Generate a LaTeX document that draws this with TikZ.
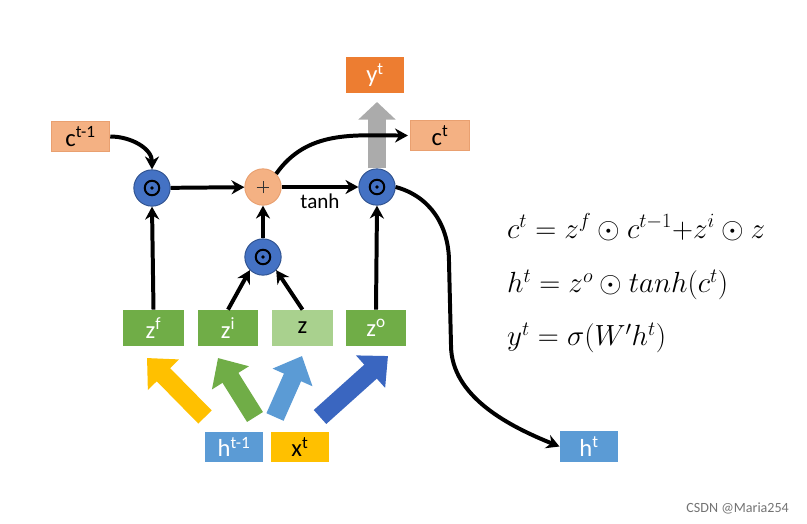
\documentclass[tikz,border=0pt]{standalone}
\usepackage{fontspec}
\usepackage{amsmath}
\setsansfont{Carlito}
\usetikzlibrary{arrows.meta}
\definecolor{salmon}{HTML}{F4B183}
\definecolor{salmonB}{HTML}{E9A070}
\definecolor{orangeY}{HTML}{ED7D31}
\definecolor{blueC}{HTML}{4472C4}
\definecolor{blueCB}{HTML}{2F528F}
\definecolor{greenZ}{HTML}{70AD47}
\definecolor{greenL}{HTML}{A9D18E}
\definecolor{blueH}{HTML}{5B9BD5}
\definecolor{yellowX}{HTML}{FFC000}
\definecolor{darkblueA}{HTML}{3A66C0}
\begin{document}
\begin{tikzpicture}[x=0.03cm,y=-0.03cm,
  lbl/.style={font=\sffamily\fontsize{21}{23}\selectfont},
  cbox/.style={lbl,draw=salmonB,fill=salmon,line width=0.8pt,minimum width=50pt,minimum height=26pt,inner sep=0pt,text=black},
  gbox/.style={lbl,fill=greenZ,minimum width=52pt,minimum height=31pt,inner sep=0pt,text=white},
  mulc/.style={circle,draw=blueCB,fill=blueC,line width=0.8pt,minimum size=31pt,inner sep=0pt,
    path picture={\draw[draw=black,line width=1.7pt] (path picture bounding box.center) circle (6.2pt);
                  \fill[black] (path picture bounding box.center) circle (1.6pt);}},
  addc/.style={circle,draw=salmonB,fill=salmon,line width=0.8pt,minimum size=31pt,inner sep=0pt,
    path picture={\draw[draw=black!80,line width=0.6pt] ([xshift=-5.5pt]path picture bounding box.center) -- ([xshift=5.5pt]path picture bounding box.center)
                  ([yshift=-5.5pt]path picture bounding box.center) -- ([yshift=5.5pt]path picture bounding box.center);}},
  conn/.style={line width=3.4pt,-{Stealth[length=11pt,width=12pt]}},
  bigarrow/.style={line width=16pt,-{Triangle[length=20pt,width=36pt]}}
]
\useasboundingbox (0,0) rectangle (807,523);

% boxes
\node[cbox] (cprev) at (80.5,136.5) {c\textsuperscript{t-1}};
\node[cbox] (cnext) at (440,135.5) {c\textsuperscript{t}};
\node[lbl,fill=orangeY,minimum width=50pt,minimum height=31pt,inner sep=0pt,text=white] (y) at (375,75) {y\textsuperscript{t}};

\node[mulc] (o1) at (152,188) {};
\node[addc] (add) at (263,187) {};
\node[mulc] (o3) at (377,187) {};
\node[mulc] (o2) at (263,257) {};

\node[gbox] (zf) at (153.5,328) {z\textsuperscript{f}};
\node[gbox] (zi) at (228,328) {z\textsuperscript{i}};
\node[gbox,fill=greenL,text=black] (z) at (302.5,328) {z};
\node[gbox] (zo) at (376,328) {z\textsuperscript{o}};

\node[lbl,fill=blueH,text=white,minimum width=50pt,minimum height=26pt,inner sep=0pt] (hprev) at (234,447) {h\textsuperscript{t-1}};
\node[lbl,fill=yellowX,text=black,minimum width=50pt,minimum height=26pt,inner sep=0pt] (x) at (300,447) {x\textsuperscript{t}};
\node[lbl,fill=blueH,text=white,minimum width=50pt,minimum height=26pt,inner sep=0pt] (ht) at (589,446.5) {h\textsuperscript{t}};

% big input arrows
\coordinate (ya) at (205,417); \coordinate (yb) at (147,358);
\coordinate (ga) at (255,417); \coordinate (gb) at (218,358);
\coordinate (ba) at (275,417); \coordinate (bb) at (302,356);
\coordinate (da) at (320,417); \coordinate (db) at (388,356);
\draw[bigarrow,draw=yellowX,fill=yellowX] (ya) -- (yb);
\draw[bigarrow,draw=greenZ,fill=greenZ] (ga) -- (gb);
\draw[bigarrow,draw=blueH,fill=blueH] (ba) -- (bb);
\draw[bigarrow,draw=darkblueA,fill=darkblueA] (da) -- (db);

% grey output arrow
\coordinate (gtip) at (377,102);
\draw[line width=15pt,draw=black!33,-{Triangle[length=15pt,width=31pt]}] (o3.north) -- (gtip);

% connectors
\coordinate (b1) at (449,262);
\coordinate (b2) at (451,345);
\draw[conn] (cprev.east) to[out=0,in=90] (o1.north);
\draw[conn] (o1) -- (add);
\draw[conn] (add) -- node[below,font=\sffamily\fontsize{18}{20}\selectfont,yshift=-1pt]{tanh} (o3);
\draw[conn] (add.north east) to[out=55,in=180] ([xshift=-2pt]cnext.west);
\draw[conn] (o3.east) to[out=-15,in=90] (b1) -- (b2) to[out=-90,in=158,looseness=0.9] (ht.west);
\draw[conn] (zf.north) -- (o1.south);
\draw[conn] (zi.north) -- (o2.south west);
\draw[conn] (z.north) -- (o2.south east);
\draw[conn] (o2.north) -- (add.south);
\draw[conn] (zo.north) -- (o3.south);

% equations
\node[anchor=west,font=\fontsize{25}{30}\selectfont] (e1) at (503,227) {$c^t = z^f \odot c^{t-1}{+}z^i \odot z$};
\node[anchor=west,font=\fontsize{25}{30}\selectfont] (e2) at (503,285) {$h^t = z^o \odot tanh(c^t)$};
\node[anchor=west,font=\fontsize{25}{30}\selectfont] (e3) at (503,338) {$y^t = \sigma(W'h^t)$};

\node[anchor=east,font=\sffamily\fontsize{12}{14}\selectfont,text=black!55] (wm) at (793,508) {CSDN @Maria254};
\end{tikzpicture}
\end{document}
